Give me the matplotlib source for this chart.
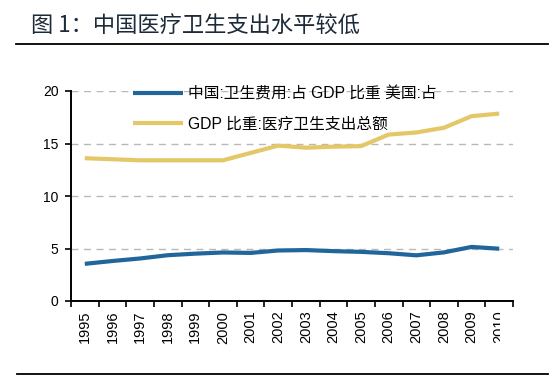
import matplotlib.pyplot as plt
import numpy as np
from matplotlib.lines import Line2D
from matplotlib.patches import Rectangle

plt.rcParams['font.family'] = ['Liberation Sans', 'Noto Sans CJK SC']

# data (% of GDP)
years = [str(y) for y in range(1995, 2011)]
china = [3.54, 3.81, 4.05, 4.36, 4.51, 4.62, 4.58, 4.81, 4.85, 4.75, 4.68, 4.55, 4.35, 4.63, 5.15, 4.98]
usa = [13.6, 13.5, 13.4, 13.4, 13.4, 13.4, 14.1, 14.8, 14.6, 14.7, 14.75, 15.85, 16.05, 16.5, 17.6, 17.85]
label_china = "中国:卫生费用:占 GDP 比重 美国:占"
label_usa = "GDP 比重:医疗卫生支出总额"
title = "图 1：中国医疗卫生支出水平较低"

fig = plt.figure(figsize=(5.56, 3.82), dpi=100)
ax = fig.add_axes([71/556, 1 - 301/382, (513-71)/556, (301-91)/382])

x = np.arange(len(years))
ax.plot(x, china, color='#20669b', linewidth=3, solid_capstyle='butt', label=label_china, zorder=3)
ax.plot(x, usa, color='#e4c767', linewidth=3, solid_capstyle='butt', label=label_usa, zorder=3)

ax.set_xlim(-0.5, len(years) - 0.5)
ax.set_ylim(0, 20)
ax.set_yticks([0, 5, 10, 15, 20])
ax.set_xticks(x)
ax.set_xticklabels(years, rotation=90, fontsize=10.5)
ax.set_xticks(np.arange(-0.5, len(years)), minor=True)
ax.tick_params(axis='x', which='major', length=0, pad=7)
ax.tick_params(axis='x', which='minor', length=4, width=1.2, direction='out')
ax.tick_params(axis='y', length=4, width=1.2, pad=5, labelsize=10)

for yv in [5, 10, 15, 20]:
    ax.axhline(yv, color='#b8b8b8', linewidth=1, linestyle=(0, (5, 4)), zorder=1)

for s in ['top', 'right']:
    ax.spines[s].set_visible(False)
for s in ['left', 'bottom']:
    ax.spines[s].set_linewidth(1.4)

# last year label is cut off at the plot's right edge
clip = Rectangle((0, 0), 500/556, 1, transform=fig.transFigure)
lab = ax.get_xticklabels()[-1]
lab.set_clip_on(True)
lab.set_clip_path(clip)

leg = ax.legend(loc='upper left', bbox_to_anchor=(133/556, 1 - 86/382), bbox_transform=fig.transFigure,
                frameon=False, fontsize=11.3, handlelength=3.2, handletextpad=0.3,
                labelspacing=1.0, borderpad=0, borderaxespad=0)

fig.text(31/556, 1 - 25/382, title, fontsize=16, color='#1c2a3a', va='center', ha='left',
         family=['Noto Sans CJK SC'])
fig.add_artist(Line2D([16/556, 548/556], [1 - 44/382] * 2, color='black', linewidth=1.3))
fig.add_artist(Line2D([17/556, 548/556], [1 - 374/382] * 2, color='black', linewidth=1.3))

fig.savefig('out.png', dpi=100)
